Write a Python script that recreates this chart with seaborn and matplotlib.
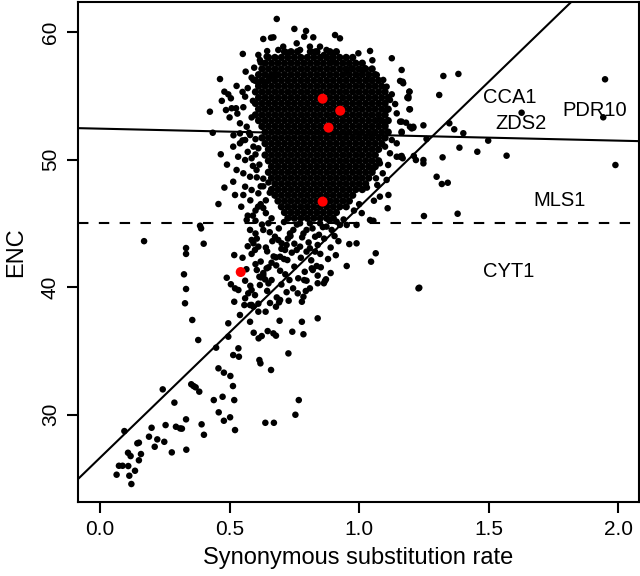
import numpy as np
import pandas as pd
import matplotlib
matplotlib.use("Agg")
import matplotlib.pyplot as plt
import seaborn as sns

# ---------------- data ----------------
# dense core of the cloud (rows of ENC values with the rates seen along each row)
core_enc_rows = [58.45, 58.00, 57.55, 57.10, 56.65, 56.20, 55.75, 55.30, 54.85, 54.40, 53.95,
                 53.50, 53.05, 52.60, 52.15, 51.70, 51.25, 50.80, 50.35, 49.90, 49.45,
                 49.00, 48.55, 48.10, 47.65, 47.20, 46.75, 46.30, 45.85, 45.40]
core_rate_rows = [
    [0.712, 0.737, 0.762, 0.812, 0.837, 0.887, 0.912],
    [0.650, 0.675, 0.700, 0.725, 0.750, 0.775, 0.800, 0.825, 0.850, 0.875, 0.900, 0.925, 0.950, 0.975],
    [0.637, 0.662, 0.687, 0.712, 0.737, 0.762, 0.787, 0.812, 0.837, 0.862, 0.887, 0.912, 0.937, 0.962, 0.987, 1.012],
    [0.625, 0.650, 0.675, 0.700, 0.725, 0.750, 0.775, 0.800, 0.825, 0.850, 0.875, 0.900, 0.925, 0.950, 0.975, 1.000, 1.025, 1.050],
    [0.612, 0.637, 0.662, 0.687, 0.712, 0.737, 0.762, 0.787, 0.812, 0.837, 0.862, 0.887, 0.912, 0.937, 0.962, 0.987, 1.012, 1.037, 1.062],
    [0.600, 0.625, 0.650, 0.675, 0.700, 0.725, 0.750, 0.775, 0.800, 0.825, 0.850, 0.875, 0.900, 0.925, 0.950, 0.975, 1.000, 1.025, 1.050, 1.075],
    [0.612, 0.637, 0.662, 0.687, 0.712, 0.737, 0.762, 0.787, 0.812, 0.837, 0.862, 0.887, 0.912, 0.937, 0.962, 0.987, 1.012, 1.037, 1.062, 1.087],
    [0.600, 0.625, 0.650, 0.675, 0.700, 0.725, 0.750, 0.775, 0.800, 0.825, 0.850, 0.875, 0.900, 0.925, 0.950, 0.975, 1.000, 1.025, 1.050, 1.075, 1.100],
    [0.612, 0.637, 0.662, 0.687, 0.712, 0.737, 0.762, 0.787, 0.812, 0.837, 0.862, 0.887, 0.912, 0.937, 0.962, 0.987, 1.012, 1.037, 1.062, 1.087, 1.112],
    [0.600, 0.625, 0.650, 0.675, 0.700, 0.725, 0.750, 0.775, 0.800, 0.825, 0.850, 0.875, 0.900, 0.925, 0.950, 0.975, 1.000, 1.025, 1.050, 1.075, 1.100],
    [0.612, 0.637, 0.662, 0.687, 0.712, 0.737, 0.762, 0.787, 0.812, 0.837, 0.862, 0.887, 0.912, 0.937, 0.962, 0.987, 1.012, 1.037, 1.062, 1.087, 1.112],
    [0.600, 0.625, 0.650, 0.675, 0.700, 0.725, 0.750, 0.775, 0.800, 0.825, 0.850, 0.875, 0.900, 0.925, 0.950, 0.975, 1.000, 1.025, 1.050, 1.075, 1.100],
    [0.612, 0.637, 0.662, 0.687, 0.712, 0.737, 0.762, 0.787, 0.812, 0.837, 0.862, 0.887, 0.912, 0.937, 0.962, 0.987, 1.012, 1.037, 1.062, 1.087, 1.112],
    [0.625, 0.650, 0.675, 0.700, 0.725, 0.750, 0.775, 0.800, 0.825, 0.850, 0.875, 0.900, 0.925, 0.950, 0.975, 1.000, 1.025, 1.050, 1.075, 1.100],
    [0.637, 0.662, 0.687, 0.712, 0.737, 0.762, 0.787, 0.812, 0.837, 0.862, 0.887, 0.912, 0.937, 0.962, 0.987, 1.012, 1.037, 1.062, 1.087, 1.112],
    [0.625, 0.650, 0.675, 0.700, 0.725, 0.750, 0.775, 0.800, 0.825, 0.850, 0.875, 0.900, 0.925, 0.950, 0.975, 1.000, 1.025, 1.050, 1.075, 1.100],
    [0.637, 0.662, 0.687, 0.712, 0.737, 0.762, 0.787, 0.812, 0.837, 0.862, 0.887, 0.912, 0.937, 0.962, 0.987, 1.012, 1.037, 1.062, 1.087],
    [0.650, 0.675, 0.700, 0.725, 0.750, 0.775, 0.800, 0.825, 0.850, 0.875, 0.900, 0.925, 0.950, 0.975, 1.000, 1.025, 1.050, 1.075],
    [0.637, 0.662, 0.687, 0.712, 0.737, 0.762, 0.787, 0.812, 0.837, 0.862, 0.887, 0.912, 0.937, 0.962, 0.987, 1.012, 1.037, 1.062],
    [0.650, 0.675, 0.700, 0.725, 0.750, 0.775, 0.800, 0.825, 0.850, 0.875, 0.900, 0.925, 0.950, 0.975, 1.000, 1.025, 1.050, 1.075],
    [0.662, 0.687, 0.712, 0.737, 0.762, 0.787, 0.812, 0.837, 0.862, 0.887, 0.912, 0.937, 0.962, 0.987, 1.012, 1.037, 1.062],
    [0.650, 0.675, 0.700, 0.725, 0.750, 0.775, 0.800, 0.825, 0.850, 0.875, 0.900, 0.925, 0.950, 0.975, 1.000, 1.025, 1.050],
    [0.662, 0.687, 0.712, 0.737, 0.762, 0.787, 0.812, 0.837, 0.862, 0.887, 0.912, 0.937, 0.962, 0.987, 1.012, 1.037],
    [0.675, 0.700, 0.725, 0.750, 0.775, 0.800, 0.825, 0.850, 0.875, 0.900, 0.925, 0.950, 0.975, 1.000, 1.025],
    [0.662, 0.687, 0.712, 0.737, 0.762, 0.787, 0.812, 0.837, 0.862, 0.887, 0.912, 0.937, 0.962, 0.987, 1.012],
    [0.675, 0.700, 0.725, 0.750, 0.775, 0.800, 0.825, 0.850, 0.875, 0.900, 0.925, 0.950, 0.975],
    [0.687, 0.712, 0.737, 0.762, 0.787, 0.812, 0.837, 0.862, 0.887, 0.912, 0.937, 0.962],
    [0.700, 0.725, 0.750, 0.775, 0.800, 0.825, 0.850, 0.875, 0.900, 0.925, 0.950],
    [0.712, 0.737, 0.762, 0.787, 0.812, 0.837, 0.862, 0.887, 0.912],
    [0.725, 0.750, 0.775, 0.800, 0.825, 0.850, 0.875, 0.900],
]

# scattered points around the core (top, left and right fringe)
fringe_rate = [0.682, 0.750, 0.795, 0.788, 0.630, 0.660, 0.669, 0.907, 0.926, 0.823, 0.849, 0.997,
               1.042, 1.051, 1.126, 0.551, 0.611, 0.617, 0.643, 0.707, 0.723, 0.688, 0.759, 0.772,
               0.810, 0.830, 0.864, 0.894, 0.874, 0.896, 0.952, 0.971, 1.023, 1.013, 0.990, 1.068,
               1.093, 1.106, 1.029, 1.158, 1.170, 1.194, 1.190, 1.194, 1.126, 1.139, 1.119, 1.145,
               1.106, 1.080, 1.100, 1.158, 1.196, 1.209, 1.164, 1.119, 1.145, 1.164, 1.091, 1.065,
               1.106, 1.126, 1.100, 1.145, 1.080, 1.112, 1.055, 0.463, 0.424, 0.435, 0.466, 0.514,
               0.480, 0.495, 0.505, 0.486, 0.508, 0.525, 0.553, 0.560, 0.527, 0.562, 0.585, 0.592,
               0.611, 0.637, 0.656, 0.675, 0.540, 0.566, 0.540, 0.579, 0.560, 0.514, 0.540, 0.592,
               0.611, 0.533, 0.560, 0.585, 0.527, 0.553, 0.579, 0.604, 0.560, 0.585, 0.611, 0.521,
               0.553, 0.600, 0.620, 0.640, 0.580, 0.610, 0.630, 0.590,
               0.470, 0.500, 0.530, 0.550, 0.570, 0.590, 0.585, 0.575, 0.600, 0.600, 0.615, 0.630,
               0.620, 0.605, 0.590, 0.570, 0.550, 0.515, 0.490, 0.480, 0.545, 0.570, 0.600, 0.640,
               0.630, 0.655, 0.650, 0.595, 0.620, 0.645]
fringe_enc = [61.02, 60.24, 60.08, 59.63, 59.45, 59.55, 59.58, 59.76, 59.50, 59.58, 58.85, 58.33,
              58.51, 57.78, 57.94, 58.28, 58.20, 57.80, 58.07, 58.85, 58.38, 58.59, 59.11, 58.59,
              58.85, 58.46, 58.20, 57.67, 58.59, 58.33, 57.02, 57.15, 57.15, 56.89, 56.63, 56.63,
              56.24, 55.71, 56.24, 56.16, 55.98, 55.32, 54.80, 53.94, 55.11, 54.35, 54.67, 53.62,
              53.88, 53.10, 52.71, 52.97, 52.57, 52.57, 52.18, 50.49, 50.22, 50.28, 48.92, 48.53,
              48.40, 51.53, 51.01, 51.27, 49.70, 49.57, 49.31, 56.31, 53.75, 52.10, 50.41, 48.26,
              55.32, 55.11, 54.80, 53.88, 54.02, 54.02, 54.10, 54.93, 55.77, 56.89, 56.42, 56.24,
              55.98, 55.98, 56.50, 56.63, 52.84, 52.57, 52.05, 51.92, 51.53, 51.01, 51.27, 51.01,
              50.88, 50.22, 49.96, 50.10, 49.18, 48.92, 48.65, 49.18, 47.87, 47.61, 47.35, 47.22,
              47.22, 46.00, 46.50, 45.80, 46.80, 46.30, 47.90, 45.60,
              54.60, 53.30, 53.60, 55.30, 55.60, 54.60, 53.30, 52.10, 51.60, 50.40, 49.60, 48.50,
              47.90, 48.60, 49.50, 50.60, 51.50, 51.90, 49.60, 47.80, 46.30, 45.60, 45.20, 46.80,
              46.20, 47.40, 48.20, 57.20, 57.60, 58.50]

# points under the core, between ENC 38 and 47
mid_rate = [0.457, 0.386, 0.518, 0.489, 0.505, 0.521, 0.534, 0.560, 0.572, 0.611, 0.592, 0.579,
            0.598, 0.585, 0.617, 0.650, 0.662, 0.615, 0.630, 0.605, 0.643, 0.662, 0.679, 0.695,
            0.723, 0.650, 0.621, 0.637, 0.682, 0.695, 0.679, 0.639, 0.785, 0.763, 0.794, 0.765,
            0.788, 0.797, 0.731, 0.817, 0.836, 0.852, 0.821, 0.872, 0.864, 0.868, 0.952, 0.962,
            0.990, 1.046, 1.064, 1.113, 1.110, 1.080, 1.057, 1.042, 1.055, 0.990, 0.952, 0.566,
            0.579, 0.585, 0.592, 0.598, 0.611, 0.630, 0.650, 0.662, 0.675, 0.688, 0.701, 0.720,
            0.733, 0.746, 0.772, 0.797, 0.810, 0.830, 0.849, 0.874, 0.894, 0.913, 0.926, 0.695,
            0.714, 0.759, 0.772, 0.797, 0.810, 0.830, 1.030, 1.070, 1.000, 0.980, 1.010, 0.170,
            0.332, 0.332, 0.324, 0.332, 0.400, 0.390,
            0.600, 0.625, 0.655, 0.690, 0.710, 0.735, 0.760, 0.785, 0.820, 0.845, 0.860, 0.885,
            0.905, 0.940, 0.570, 0.605, 0.640, 0.665, 0.700, 0.725, 0.750, 0.780, 0.805, 0.840,
            0.865, 0.890, 0.920, 0.550, 0.585, 0.620, 0.645, 0.670, 0.710, 0.740, 0.775, 0.815,
            0.850, 0.880, 0.910, 0.565, 0.600, 0.630, 0.680, 0.715, 0.750, 0.790, 0.840, 0.890,
            0.560, 0.580, 0.645, 0.700, 0.720, 0.745, 0.810, 0.840]
mid_enc = [46.51, 44.81, 42.51, 40.73, 40.22, 39.90, 39.77, 39.12, 39.51, 38.07, 38.46, 38.59,
           39.37, 39.77, 40.16, 40.29, 40.55, 40.81, 40.94, 41.34, 41.47, 41.91, 42.33, 41.28,
           42.12, 41.55, 40.76, 40.60, 39.19, 38.99, 38.46, 38.07, 39.24, 39.51, 39.69, 40.69,
           40.55, 40.50, 40.55, 41.47, 41.65, 41.55, 41.34, 40.61, 40.30, 40.48, 41.65, 43.37,
           43.43, 41.99, 42.65, 47.22, 46.18, 47.09, 46.77, 45.26, 45.20, 44.87, 44.87, 45.26,
           44.48, 43.69, 43.43, 42.91, 43.17, 44.48, 45.00, 45.39, 43.95, 43.69, 43.43, 43.30,
           44.21, 44.48, 45.00, 44.48, 45.00, 43.95, 45.00, 44.74, 44.48, 45.13, 44.87, 42.38,
           42.91, 42.91, 43.17, 42.78, 43.04, 42.78, 47.80, 48.00, 46.50, 46.00, 45.80, 43.60,
           43.06, 42.60, 41.00, 39.85, 43.40, 44.60,
           44.20, 44.90, 44.30, 44.60, 45.10, 44.00, 44.90, 44.20, 44.60, 44.10, 44.70, 45.20,
           44.00, 45.30, 43.20, 43.80, 43.10, 43.60, 43.00, 43.80, 43.40, 43.90, 43.50, 43.30,
           43.80, 43.10, 43.60, 42.30, 42.60, 42.00, 42.80, 42.40, 42.20, 42.70, 42.30, 42.10,
           42.60, 42.20, 42.50, 41.40, 41.80, 41.10, 41.70, 41.00, 41.60, 41.20, 40.90, 41.10,
           40.50, 40.10, 39.70, 40.20, 39.60, 39.90, 39.90, 40.30]

# low tail of the cloud (ENC below 39)
tail_rate = [0.328, 0.356, 0.379, 0.242, 0.287, 0.094, 0.199, 0.253, 0.293, 0.309, 0.316, 0.332,
             0.189, 0.221, 0.248, 0.211, 0.277, 0.333, 0.392, 0.401, 0.144, 0.150, 0.108, 0.118,
             0.158, 0.150, 0.073, 0.087, 0.109, 0.135, 0.064, 0.113, 0.121, 0.448, 0.457, 0.478,
             0.503, 0.513, 0.439, 0.473, 0.518, 0.458, 0.478, 0.502, 0.521, 0.352, 0.361, 0.369,
             0.383, 0.495, 0.495, 0.540, 0.534, 0.514, 0.536, 0.615, 0.619, 0.660, 0.579, 0.593,
             0.612, 0.624, 0.647, 0.669, 0.679, 0.693, 0.727, 0.742, 0.779, 0.785, 0.638, 0.671,
             0.754, 0.767, 0.518, 0.557, 0.585, 0.611, 0.656, 0.691, 0.728, 0.779, 0.840]
tail_enc = [38.73, 37.42, 35.85, 31.98, 30.94, 28.71, 28.97, 29.18, 29.05, 28.92, 28.90, 29.63,
            28.27, 28.06, 27.87, 27.48, 27.04, 27.25, 29.24, 28.42, 27.75, 27.80, 27.01, 26.75,
            26.91, 26.42, 25.99, 25.99, 25.97, 25.60, 25.29, 25.21, 24.56, 35.25, 33.63, 33.29,
            33.03, 32.24, 31.14, 31.40, 31.14, 30.18, 29.52, 29.79, 28.79, 32.38, 32.24, 32.14,
            31.80, 37.16, 36.11, 37.81, 35.20, 34.67, 34.54, 34.28, 34.02, 33.50, 37.28, 36.42,
            35.98, 36.16, 36.55, 36.37, 36.19, 37.36, 34.80, 36.50, 37.28, 36.30, 29.36, 29.36,
            29.99, 31.14, 38.85, 38.59, 38.60, 38.70, 38.75, 38.80, 38.93, 38.85, 37.55]

# isolated points right of the cloud
right_rate = [1.325, 1.383, 1.309, 1.168, 1.194, 1.190, 1.186, 1.196, 1.164, 1.181, 1.209, 1.203,
              1.248, 1.164, 1.348, 1.367, 1.402, 1.260, 1.498, 1.387, 1.456, 1.569, 1.627, 1.949,
              1.942, 1.989, 1.158, 1.168, 1.211, 1.219, 1.248, 1.248, 1.322, 1.299, 1.319, 1.342,
              1.250, 1.380, 1.232, 1.164, 1.229]
right_enc = [56.55, 56.71, 55.06, 56.10, 55.32, 54.93, 54.85, 53.94, 52.97, 52.89, 52.49, 52.44,
             52.68, 52.10, 52.84, 52.37, 52.06, 51.61, 51.48, 50.93, 50.61, 50.30, 53.67, 56.29,
             53.31, 49.57, 50.22, 50.10, 50.28, 49.96, 49.96, 49.70, 50.17, 48.65, 48.08, 48.18,
             45.57, 45.75, 39.95, 57.02, 39.90]

# highlighted genes (red)
gene_rate = [0.859, 0.927, 0.882, 0.859, 0.543]
gene_enc = [54.77, 53.83, 52.50, 46.70, 41.18]

# gene labels and their positions
label_names = ["CCA1", "PDR10", "ZDS2", "MLS1", "CYT1"]
label_rate = [1.582, 1.910, 1.625, 1.775, 1.576]
label_enc = [54.86, 53.88, 52.79, 46.79, 41.26]

# fitted lines (intercept, slope) and the ENC cut-off
steep_fit = (26.62, 19.65)
flat_fit = (52.42, -0.47)
enc_cutoff = 45.0

# ---------------- assemble ----------------
core = pd.DataFrame({
    "rate": [r for row in core_rate_rows for r in row],
    "enc": [e for e, row in zip(core_enc_rows, core_rate_rows) for _ in row],
})
spread = pd.DataFrame({
    "rate": fringe_rate + mid_rate + tail_rate + right_rate,
    "enc": fringe_enc + mid_enc + tail_enc + right_enc,
})
genes = pd.DataFrame({"rate": gene_rate, "enc": gene_enc})

sns.set_style("ticks")
plt.rcParams["font.family"] = ["Liberation Sans", "DejaVu Sans"]
for key in ["text.color", "axes.labelcolor", "xtick.color", "ytick.color", "axes.edgecolor"]:
    plt.rcParams[key] = "black"

fig = plt.figure(figsize=(6.4, 5.76), dpi=100)
ax = fig.add_axes([78 / 640, 1 - 502 / 576, (639 - 78) / 640, (502 - 2) / 576])

sns.scatterplot(data=core, x="rate", y="enc", ax=ax, color="black", s=28,
                linewidth=0, edgecolor="none", legend=False, zorder=2)
sns.scatterplot(data=spread, x="rate", y="enc", ax=ax, color="black", s=22,
                linewidth=0, edgecolor="none", legend=False, zorder=2)
sns.scatterplot(data=genes, x="rate", y="enc", ax=ax, color="#ff0000", s=52,
                linewidth=0, edgecolor="none", legend=False, zorder=4)

ax.axline((0, steep_fit[0]), slope=steep_fit[1], color="black", lw=1.5, zorder=3)
ax.axline((0, flat_fit[0]), slope=flat_fit[1], color="black", lw=1.5, zorder=3)
ax.axhline(enc_cutoff, color="black", lw=1.5, dashes=(5, 5), zorder=3)

for name, xr, ye in zip(label_names, label_rate, label_enc):
    ax.text(xr, ye, name, ha="center", va="center", fontsize=14.5, color="black", zorder=5)

ax.set_xlim(-0.085, 2.080)
ax.set_ylim(23.15, 62.35)
ax.set_xticks([0.0, 0.5, 1.0, 1.5, 2.0])
ax.set_xticklabels(["0.0", "0.5", "1.0", "1.5", "2.0"])
ax.set_yticks([30, 40, 50, 60])
ax.set_yticklabels(["30", "40", "50", "60"], rotation=90, va="center")
ax.tick_params(axis="both", direction="out", length=8, width=1.5, labelsize=15, pad=5,
               colors="black")
for sp in ax.spines.values():
    sp.set_linewidth(1.5)
    sp.set_visible(True)
    sp.set_color("black")
ax.set_xlabel("Synonymous substitution rate", fontsize=17, labelpad=6)
ax.set_ylabel("ENC", fontsize=17, labelpad=10)

fig.savefig("out.png", dpi=100)
